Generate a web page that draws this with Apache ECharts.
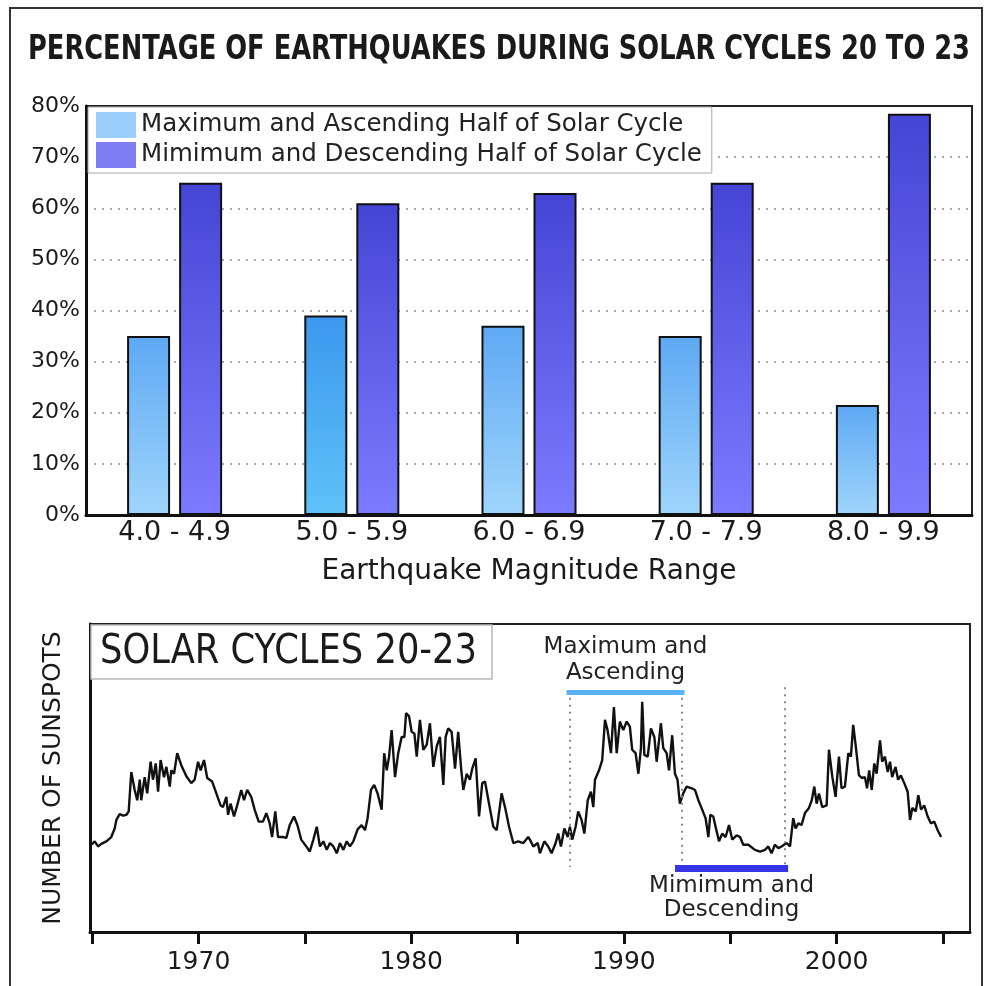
<!DOCTYPE html>
<html><head><meta charset="utf-8">
<script src="https://cdn.jsdelivr.net/npm/echarts@6/dist/echarts.min.js"></script>
<style>html,body{margin:0;padding:0;background:#fff}#c{width:984px;height:986px}</style>
</head><body><div id="c"></div>
<script>
// ---------- data ----------
const magnitudeRanges = ['4.0 - 4.9', '5.0 - 5.9', '6.0 - 6.9', '7.0 - 7.9', '8.0 - 9.9'];
const maxAscendingPct = [35, 39, 37, 35, 21.5];
const minDescendingPct = [65, 61, 63, 65, 78.5];
const pctTickStep = 10;
const yearTicks = [1965, 1970, 1975, 1980, 1985, 1990, 1995, 2000, 2005];
const yearLabels = [1970, 1980, 1990, 2000];

const sunspotYears = [
1964.96,1965.12,1965.28,1965.43,1965.67,1965.90,1966.06,1966.14,1966.30,1966.45,1966.61,1966.72,1966.84,1967.00,1967.12,1967.24,1967.31,1967.47,1967.59,1967.75,1967.86,1967.99,1968.10,1968.22,1968.38,1968.49,1968.65,1968.72,1968.85,1969.00,1969.19,1969.43,1969.66,1969.82,1969.98,1970.10,1970.26,1970.41,1970.64,1970.84,1971.04,1971.15,1971.31,1971.39,1971.51,1971.67,1971.82,1972.01,1972.14,1972.29,1972.48,1972.64,1972.83,1973.03,1973.19,1973.35,1973.46,1973.61,1973.74,1973.97,1974.13,1974.29,1974.49,1974.65,1974.83,1975.07,1975.23,
1975.40,1975.56,1975.71,1975.87,1976.03,1976.18,1976.34,1976.50,1976.65,1976.81,1976.97,1977.12,1977.28,1977.48,1977.67,1977.83,1977.95,1978.11,1978.26,1978.42,1978.61,1978.73,1978.85,1978.96,1979.08,1979.24,1979.39,1979.55,1979.68,1979.76,1979.90,1980.02,1980.15,1980.26,1980.41,1980.57,1980.73,1980.88,1981.04,1981.20,1981.35,1981.51,1981.62,1981.74,1981.90,1982.06,1982.21,1982.34,1982.45,1982.61,1982.76,1982.87,1983.03,1983.19,1983.34,1983.47,1983.66,1983.86,1984.02,1984.25,1984.41,1984.60,1984.80,1985.03,1985.27,1985.50,
1985.58,1985.74,1985.95,1986.05,1986.26,1986.44,1986.60,1986.79,1986.91,1987.04,1987.20,1987.36,1987.46,1987.57,1987.73,1987.85,1988.01,1988.14,1988.30,1988.45,1988.56,1988.64,1988.83,1988.98,1989.11,1989.23,1989.39,1989.53,1989.66,1989.81,1989.97,1990.13,1990.28,1990.39,1990.55,1990.68,1990.80,1990.86,1990.96,1991.12,1991.27,1991.43,1991.54,1991.74,1991.85,1992.01,1992.12,1992.27,1992.40,1992.52,1992.63,1992.79,1992.95,1993.19,1993.34,1993.50,1993.68,1993.84,1993.97,1994.06,1994.20,1994.31,1994.47,1994.62,1994.78,1994.94,1995.09,1995.30,1995.46,1995.61,1995.85,
1995.93,1996.16,1996.40,1996.63,1996.79,1996.94,1997.10,1997.26,1997.41,1997.65,1997.81,1997.96,1998.07,1998.20,1998.35,1998.51,1998.70,1998.83,1998.95,1999.06,1999.17,1999.32,1999.53,1999.64,1999.80,1999.95,2000.11,2000.23,2000.39,2000.55,2000.67,2000.78,2000.91,2001.05,2001.20,2001.33,2001.43,2001.53,2001.65,2001.77,2001.88,2002.04,2002.14,2002.27,2002.40,2002.51,2002.61,2002.77,2002.89,2003.02,2003.18,2003.34,2003.45,2003.56,2003.72,2003.84,2003.97,2004.12,2004.28,2004.43,2004.59,2004.75,2004.91
];
const sunspotCounts = [
22,26,20,23,26,31,41,51,58,56,57,61,107,86,74,98,74,101,82,119,98,117,84,121,101,113,90,109,105,129,115,102,94,98,119,109,121,100,96,82,68,66,78,57,70,55,68,86,74,86,78,63,49,49,59,47,31,61,31,31,30,45,55,45,28,20,14,
28,43,20,26,16,24,20,12,24,16,26,20,26,40,45,39,53,86,92,82,63,129,109,125,156,101,129,148,148,176,172,154,152,125,168,133,139,164,113,137,148,92,148,158,154,111,154,113,86,105,98,111,123,55,94,96,70,43,39,82,66,43,24,26,24,31,
28,20,24,12,26,20,12,24,35,20,41,31,43,28,43,61,51,35,74,84,66,98,109,121,168,156,129,183,129,166,156,166,160,133,129,105,135,189,127,125,158,148,119,164,135,129,109,150,105,98,70,82,90,88,86,74,63,53,31,57,55,43,26,35,31,45,28,33,31,22,22,
24,16,14,16,20,12,22,18,20,24,20,53,41,47,45,59,65,74,90,70,82,66,68,133,101,78,125,88,90,129,125,162,135,103,100,101,88,109,86,117,105,144,119,125,107,119,101,113,98,103,94,84,51,65,61,80,63,68,55,47,49,39,31
];
// cycle phase markers (years) and annotation levels (sunspot units)
const phaseBoundaryYears = [1987.45, 1992.72, 1997.57];
const phaseLineTop = [202, 202, 206];
const phaseLineBottom = -4;
const ascendingSpan = [1987.3, 1992.85];
const ascendingLevel = 200;
const descendingSpan = [1992.4, 1997.72];
const descendingLevel = -5;

// ---------- helpers ----------
function measure(text, font) {
  const c = document.createElement('canvas').getContext('2d');
  c.font = font; return c.measureText(text).width;
}
const FONT = '"DejaVu Sans", Verdana, sans-serif';
const titleText = 'PERCENTAGE OF EARTHQUAKES DURING SOLAR CYCLES 20 TO 23';
const titleFont = 'bold 34px ' + FONT;
const titleScale = 942 / measure(titleText, titleFont);
const boxText = 'SOLAR CYCLES 20-23';
const boxFont = '40px ' + FONT;
const boxScale = 377 / measure(boxText, boxFont);

const lightGrad = new echarts.graphic.LinearGradient(0, 0, 0, 1, [
  {offset: 0, color: '#5ea9f4'}, {offset: 1, color: '#9fd5fb'}]);
const lightGrad2 = new echarts.graphic.LinearGradient(0, 0, 0, 1, [
  {offset: 0, color: '#3b98ee'}, {offset: 1, color: '#5fc2f8'}]);
const darkGrad = new echarts.graphic.LinearGradient(0, 0, 0, 1, [
  {offset: 0, color: '#4545d5'}, {offset: 1, color: '#7c7bff'}]);

const chart = echarts.init(document.getElementById('c'), null, {renderer: 'canvas'});

const dotted = {type: [2, 5], color: '#8a8a8a', width: 2};
const markData = phaseBoundaryYears.map((yr, i) => [
  {coord: [yr, phaseLineTop[i]], lineStyle: dotted},
  {coord: [yr, phaseLineBottom]}
]);
markData.push([
  {coord: [ascendingSpan[0], ascendingLevel],
   lineStyle: {type: 'solid', color: '#5cb2f6', width: 5},
   label: {show: true, position: 'insideMiddleTop', distance: 6, formatter: 'Maximum and\nAscending',
     fontFamily: FONT, fontSize: 23, lineHeight: 26, color: '#222'}},
  {coord: [ascendingSpan[1], ascendingLevel]}
]);
markData.push([
  {coord: [descendingSpan[0], descendingLevel],
   lineStyle: {type: 'solid', color: '#3535e6', width: 7},
   label: {show: true, position: 'insideMiddleBottom', distance: 6, formatter: 'Mimimum and\nDescending',
     fontFamily: FONT, fontSize: 23, lineHeight: 24, color: '#222'}},
  {coord: [descendingSpan[1], descendingLevel]}
]);

const option = {
  animation: false,
  backgroundColor: '#fff',
  textStyle: {fontFamily: FONT},
  graphic: [
    {type: 'rect', shape: {x: 10, y: 8, width: 972, height: 1000}, style: {fill: 'none', stroke: '#333', lineWidth: 2}, z: 100},
    {type: 'text', x: 28, y: 50, scaleX: titleScale,
     style: {text: titleText, font: titleFont, fill: '#1a1a1a', textVerticalAlign: 'middle', textAlign: 'left'}},
    {type: 'rect', shape: {x: 91, y: 625, width: 401, height: 54}, style: {fill: '#fff', stroke: '#b8b8b8', lineWidth: 1.5}, z: 50},
    {type: 'text', x: 100, y: 653, scaleX: boxScale, z: 51,
     style: {text: boxText, font: boxFont, fill: '#1a1a1a', textVerticalAlign: 'middle', textAlign: 'left'}}
  ],
  legend: {
    left: 88, top: 107, orient: 'vertical', itemGap: 4, itemWidth: 40, itemHeight: 26,
    icon: 'rect', padding: [5, 10, 5, 8], backgroundColor: '#fff', borderColor: '#aaa', borderWidth: 1,
    textStyle: {fontSize: 24.5, color: '#222', fontFamily: FONT},
    data: [
      {name: 'Maximum and Ascending Half of Solar Cycle', itemStyle: {color: '#9bcdfb', borderWidth: 0}},
      {name: 'Mimimum and Descending Half of Solar Cycle', itemStyle: {color: '#7f7ff3', borderWidth: 0}}
    ]
  },
  grid: [
    {left: 86, top: 106, width: 886, height: 409, show: true, borderColor: '#222', borderWidth: 2},
    {left: 90, top: 624, width: 880, height: 308, show: true, borderColor: '#222', borderWidth: 2}
  ],
  xAxis: [
    {type: 'category', gridIndex: 0, data: magnitudeRanges,
     axisLine: {lineStyle: {color: '#111', width: 3}}, axisTick: {show: false},
     axisLabel: {fontSize: 27, color: '#1a1a1a', margin: 4},
     name: 'Earthquake Magnitude Range', nameLocation: 'middle', nameGap: 43,
     nameTextStyle: {fontSize: 28, color: '#1a1a1a'}},
    {type: 'value', gridIndex: 1, min: 1964.9, max: 2006.27,
     axisLine: {onZero: false, lineStyle: {color: '#111', width: 3}},
     axisTick: {customValues: yearTicks, length: 12, lineStyle: {color: '#111', width: 3}},
     axisLabel: {customValues: yearLabels, fontSize: 25, color: '#1a1a1a', margin: 18,
       formatter: v => String(Math.round(v))},
     splitLine: {show: false}}
  ],
  yAxis: [
    {type: 'value', gridIndex: 0, min: 0, max: 80, interval: pctTickStep,
     axisLine: {show: true, lineStyle: {color: '#111', width: 3}}, axisTick: {show: false},
     axisLabel: {formatter: '{value}%', fontSize: 22, color: '#1a1a1a', margin: 6},
     splitLine: {showMaxLine: false, lineStyle: {type: [2, 6], color: '#aaa', width: 2}}},
    {type: 'value', gridIndex: 1, min: -80, max: 280,
     axisLine: {show: true, onZero: false, lineStyle: {color: '#111', width: 3}}, axisTick: {show: false},
     axisLabel: {show: false}, splitLine: {show: false},
     name: 'NUMBER OF SUNSPOTS', nameLocation: 'middle', nameGap: 24,
     nameTextStyle: {fontSize: 25, color: '#1a1a1a'}}
  ],
  series: [
    {name: 'Maximum and Ascending Half of Solar Cycle', type: 'bar', xAxisIndex: 0, yAxisIndex: 0,
     barWidth: 43, barGap: '21%',
     itemStyle: {color: lightGrad, borderColor: '#111', borderWidth: 2},
     data: maxAscendingPct.map((v, i) => i === 1 ? {value: v, itemStyle: {color: lightGrad2}} : v)},
    {name: 'Mimimum and Descending Half of Solar Cycle', type: 'bar', xAxisIndex: 0, yAxisIndex: 0,
     barWidth: 43,
     itemStyle: {color: darkGrad, borderColor: '#111', borderWidth: 2},
     data: minDescendingPct},
    {name: 'sunspots', type: 'line', xAxisIndex: 1, yAxisIndex: 1, showSymbol: false,
     lineStyle: {color: '#111', width: 2.4}, itemStyle: {color: '#111'},
     data: sunspotYears.map((y, i) => [y, sunspotCounts[i]]),
     markLine: {silent: true, symbol: ['none', 'none'], label: {show: false}, data: markData}}
  ]
};
chart.setOption(option);
</script></body></html>
